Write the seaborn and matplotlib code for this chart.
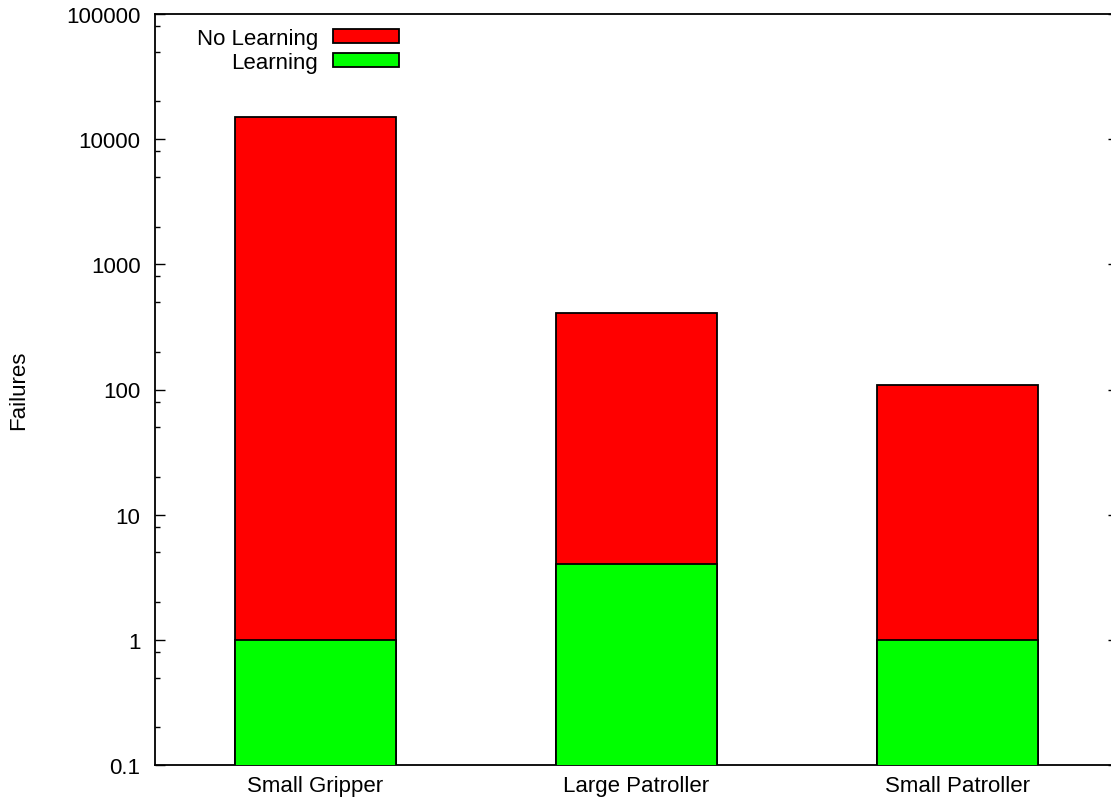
import matplotlib
matplotlib.use("Agg")
import matplotlib.pyplot as plt
from matplotlib.patches import Patch
from matplotlib.ticker import LogLocator, FixedLocator, FixedFormatter, NullFormatter
import pandas as pd
import seaborn as sns

# Failure counts per robot task
categories = ["Small Gripper", "Large Patroller", "Small Patroller"]
no_learning = [15000, 410, 108]
learning = [1, 4, 1]
ytick_values = [0.1, 1, 10, 100, 1000, 10000, 100000]
ytick_labels = ["0.1", "1", "10", "100", "1000", "10000", "100000"]

df = pd.DataFrame({"task": categories, "No Learning": no_learning, "Learning": learning})

sns.set_theme(style="white")
plt.rcParams["font.family"] = ["Liberation Sans", "DejaVu Sans"]
FS = 16
plt.rcParams.update({
    "font.size": FS,
    "text.color": "black",
    "axes.labelcolor": "black",
    "xtick.color": "black",
    "ytick.color": "black",
})

W, H = 1111, 803
fig = plt.figure(figsize=(W / 100, H / 100), dpi=100)
ax = fig.add_axes([155 / W, 37 / H, (1118 - 155) / W, (766 - 15) / H])
ax.set_yscale("log")

sns.barplot(data=df, x="task", y="No Learning", color="#ff0000", saturation=1,
            width=0.5, edgecolor="black", linewidth=1.3, ax=ax, zorder=2)
sns.barplot(data=df, x="task", y="Learning", color="#00ff00", saturation=1,
            width=0.5, edgecolor="black", linewidth=1.3, ax=ax, zorder=3)

ax.set_xlim(-0.5, 2.5)
ax.set_ylim(0.1, 100000)

ax.yaxis.set_major_locator(FixedLocator(ytick_values))
ax.yaxis.set_major_formatter(FixedFormatter(ytick_labels))
ax.yaxis.set_minor_locator(LogLocator(base=10, subs=[2, 5, 8]))
ax.yaxis.set_minor_formatter(NullFormatter())

ax.tick_params(axis="y", which="major", direction="in", length=7.2, width=1,
               color="black", labelcolor="black", left=True, right=True,
               pad=10.5, labelsize=FS)
ax.tick_params(axis="y", which="minor", direction="in", length=3.6, width=1,
               color="black", left=True, right=True)
ax.tick_params(axis="x", length=0, pad=7.5, labelsize=FS, labelcolor="black")

for s in ax.spines.values():
    s.set_visible(True)
    s.set_color("black")
    s.set_linewidth(1.3)

ax.set_xlabel("")
ax.set_ylabel("Failures", fontsize=FS, color="black")
ax.yaxis.label.set_va("center")
ax.yaxis.set_label_coords((19 - 155) / (1118 - 155), 0.5)

handles = [Patch(facecolor="#ff0000", edgecolor="black", linewidth=1.3),
           Patch(facecolor="#00ff00", edgecolor="black", linewidth=1.3)]
leg = ax.legend(handles, ["No Learning", "Learning"], loc="upper left",
                bbox_to_anchor=((197 - 155) / (1118 - 155), 1.0 - 14 / 751),
                markerfirst=False, frameon=False, fontsize=FS,
                handlelength=3.0, handleheight=0.55, handletextpad=0.65,
                labelspacing=0.12, borderpad=0, borderaxespad=0)
for t in leg.get_texts():
    t.set_color("black")

fig.savefig("out.png", dpi=100)
